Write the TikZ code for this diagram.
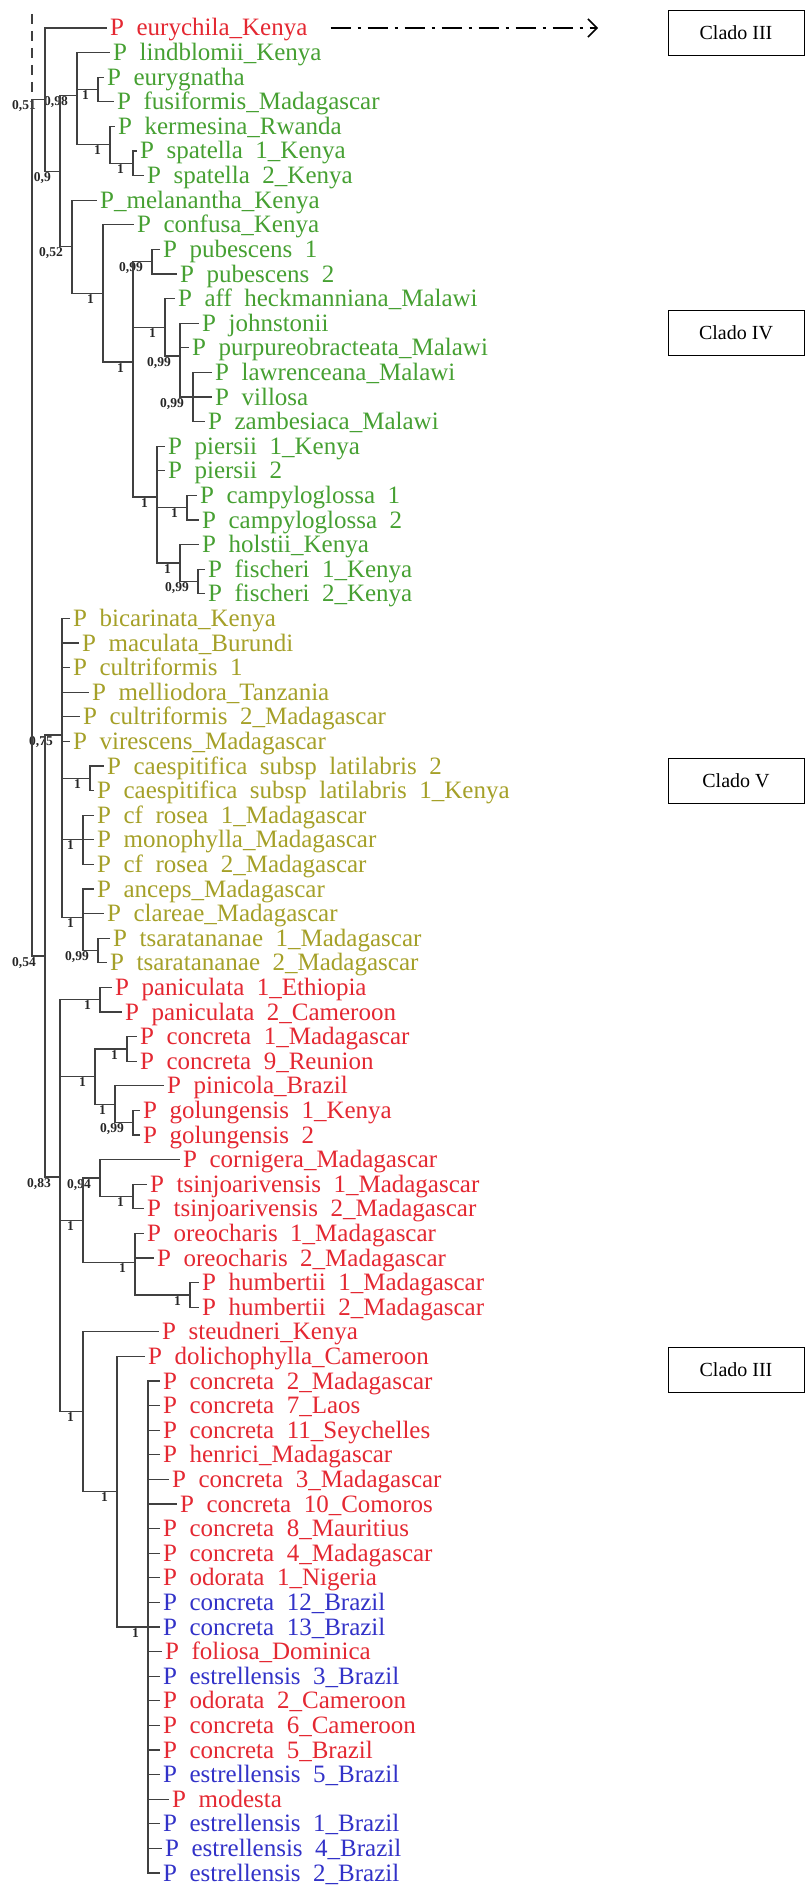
\documentclass[tikz,border=0pt]{standalone}
\usepackage{fontspec}
\setmainfont{Liberation Serif}
\usepackage{xcolor}
\usepackage{tikz}
\usetikzlibrary{arrows.meta}

\definecolor{verde}{RGB}{70,160,50}
\definecolor{oliva}{RGB}{165,160,40}
\definecolor{rojo}{RGB}{228,40,50}
\definecolor{azul}{RGB}{50,50,200}
\newcommand\leaffont{\fontsize{25}{25}\selectfont\spaceskip=0.5em\relax}

\begin{document}
\begin{tikzpicture}[x=1pt, y=-1pt,
  leaf/.style={anchor=west, inner xsep=3pt, inner ysep=0pt, text height=16pt, text depth=0pt, font=\leaffont},
  supp/.style={anchor=north east, inner sep=1pt, font=\fontsize{13.5}{13.5}\selectfont\bfseries, text=black!85},
  branch/.style={line width=1.2pt, draw=black!75},
  clado/.style={draw, line width=0.8pt, minimum width=136pt, minimum height=45pt, font=\fontsize{20}{20}\selectfont}]
  \useasboundingbox (0,0) rectangle (806,1886);
  % leaves: number / start of text / colour / name
  \foreach \i/\tx/\col/\name in {
    1/110/rojo/P eurychila\_Kenya, 2/113/verde/P lindblomii\_Kenya, 3/107/verde/P eurygnatha,
    4/117/verde/P fusiformis\_Madagascar, 5/118/verde/P kermesina\_Rwanda, 6/140/verde/P spatella 1\_Kenya,
    7/147/verde/P spatella 2\_Kenya, 8/100/verde/P\_melanantha\_Kenya, 9/137/verde/P confusa\_Kenya,
    10/163/verde/P pubescens 1, 11/180/verde/P pubescens 2, 12/178/verde/P aff heckmanniana\_Malawi,
    13/202/verde/P johnstonii, 14/192/verde/P purpureobracteata\_Malawi, 15/215/verde/P lawrenceana\_Malawi,
    16/215/verde/P villosa, 17/208/verde/P zambesiaca\_Malawi, 18/168/verde/P piersii 1\_Kenya,
    19/168/verde/P piersii 2, 20/200/verde/P campyloglossa 1, 21/202/verde/P campyloglossa 2,
    22/202/verde/P holstii\_Kenya, 23/208/verde/P fischeri 1\_Kenya, 24/208/verde/P fischeri 2\_Kenya,
    25/73/oliva/P bicarinata\_Kenya, 26/82/oliva/P maculata\_Burundi, 27/73/oliva/P cultriformis 1,
    28/92/oliva/P melliodora\_Tanzania, 29/83/oliva/P cultriformis 2\_Madagascar, 30/73/oliva/P virescens\_Madagascar,
    31/107/oliva/P caespitifica subsp latilabris 2, 32/97/oliva/P caespitifica subsp latilabris 1\_Kenya,
    33/97/oliva/P cf rosea 1\_Madagascar, 34/97/oliva/P monophylla\_Madagascar, 35/97/oliva/P cf rosea 2\_Madagascar,
    36/97/oliva/P anceps\_Madagascar, 37/107/oliva/P clareae\_Madagascar, 38/113/oliva/P tsaratananae 1\_Madagascar,
    39/110/oliva/P tsaratananae 2\_Madagascar, 40/115/rojo/P paniculata 1\_Ethiopia, 41/125/rojo/P paniculata 2\_Cameroon,
    42/140/rojo/P concreta 1\_Madagascar, 43/140/rojo/P concreta 9\_Reunion, 44/167/rojo/P pinicola\_Brazil,
    45/143/rojo/P golungensis 1\_Kenya, 46/143/rojo/P golungensis 2, 47/183/rojo/P cornigera\_Madagascar,
    48/150/rojo/P tsinjoarivensis 1\_Madagascar, 49/147/rojo/P tsinjoarivensis 2\_Madagascar,
    50/147/rojo/P oreocharis 1\_Madagascar, 51/157/rojo/P oreocharis 2\_Madagascar,
    52/202/rojo/P humbertii 1\_Madagascar, 53/202/rojo/P humbertii 2\_Madagascar, 54/162/rojo/P steudneri\_Kenya,
    55/148/rojo/P dolichophylla\_Cameroon, 56/163/rojo/P concreta 2\_Madagascar, 57/163/rojo/P concreta 7\_Laos,
    58/163/rojo/P concreta 11\_Seychelles, 59/163/rojo/P henrici\_Madagascar, 60/172/rojo/P concreta 3\_Madagascar,
    61/180/rojo/P concreta 10\_Comoros, 62/163/rojo/P concreta 8\_Mauritius, 63/163/rojo/P concreta 4\_Madagascar,
    64/163/rojo/P odorata 1\_Nigeria, 65/163/azul/P concreta 12\_Brazil, 66/163/azul/P concreta 13\_Brazil,
    67/165/rojo/P foliosa\_Dominica, 68/163/azul/P estrellensis 3\_Brazil, 69/163/rojo/P odorata 2\_Cameroon,
    70/163/rojo/P concreta 6\_Cameroon, 71/163/rojo/P concreta 5\_Brazil, 72/163/azul/P estrellensis 5\_Brazil,
    73/172/rojo/P modesta, 74/163/azul/P estrellensis 1\_Brazil, 75/165/azul/P estrellensis 4\_Brazil,
    76/163/azul/P estrellensis 2\_Brazil}
    \node[leaf, text=\col] (l\i) at ({\tx-3}, {28+(\i-1)*24.6}) {\name};

  % inner nodes with their support
  \foreach \n/\x/\y/\s in {
    A/45/99.6/{0,51}, E/60/171.2/{0,9}, F/77/95.65/{0,98}, G/98/89.5/1, H/110/144.85/1, T/133/163.3/1,
    I/72/246.8/{0,52}, J/103/293.4/1, K/133/362/1, L/152/261.7/{0,99}, M/165/327.3/1, Pn/180/356/{0,99},
    Q/193/397/{0,99}, N/157/496.9/1, CA/187/507.7/1, S/180/563/1, FI/198/581.5/{0,99},
    Y/62/735/{0,75}, CS/90/778.3/1, RO/83/839.8/1, AN/83/917.7/1, TS2/98/950.5/{0,99}, C/45/956/{0,54},
    D/60/1177/{0,83}, PA/100/999.7/1, CO/95/1076.6/1, CN/127/1048.9/1, PI/115/1104.25/1, GO/133/1122.7/{0,99},
    TO/83/1220.1/1, CT/100/1178.05/{0,94}, TS/133/1196.5/1, OR/135/1262.1/1, HU/190/1294.9/1,
    ST/83/1411.75/1, DO/117/1491.7/1, BP/148/1627/1}
  {
    \coordinate (\n) at (\x,\y);
    \node[supp] (s\n) at ([xshift=-8pt]\n) {\s};
  }
  \coordinate (R) at (32,527.8);
  \coordinate (rtop) at (32,14);

  % branches
  \draw[branch, dash pattern=on 10pt off 7pt] (rtop) -- (R |- A);
  \foreach \p/\c in {R/A, R/C, A/l1, A/E, E/F, E/I, F/l2, F/G, F/H, G/l3, G/l4, H/l5, H/T, T/l6, T/l7,
    I/l8, I/J, J/l9, J/K, K/L, K/M, K/N, L/l10, L/l11, M/l12, M/Pn, Pn/l13, Pn/l14, Pn/Q,
    Q/l15, Q/l16, Q/l17, N/l18, N/l19, N/CA, N/S, CA/l20, CA/l21, S/l22, S/FI, FI/l23, FI/l24,
    C/Y, C/D, Y/l25, Y/l26, Y/l27, Y/l28, Y/l29, Y/l30, Y/CS, Y/RO, Y/AN, CS/l31, CS/l32,
    RO/l33, RO/l34, RO/l35, AN/l36, AN/l37, AN/TS2, TS2/l38, TS2/l39,
    D/PA, D/CO, D/TO, D/ST, PA/l40, PA/l41, CO/CN, CO/PI, CN/l42, CN/l43, PI/l44, PI/GO, GO/l45, GO/l46,
    TO/CT, TO/OR, CT/l47, CT/TS, TS/l48, TS/l49, OR/l50, OR/l51, OR/HU, HU/l52, HU/l53,
    ST/l54, ST/DO, DO/l55, DO/BP}
    \draw[branch] (\p) |- (\c);
  \foreach \i in {56,...,76}
    \draw[branch] (BP) |- (l\i);

  % clade boxes
  \node[clado] (cladoIIIa) at (736,32.5) {Clado III};
  \node[clado] (cladoIV) at (736,333) {Clado IV};
  \node[clado] (cladoV) at (736,781) {Clado V};
  \node[clado] (cladoIIIb) at (736,1370) {Clado III};
  \coordinate (flecha) at (598,28);
  \draw[line width=1.5pt, dash pattern=on 20pt off 7pt on 3pt off 7pt, -{Straight Barb[length=9pt, width=18pt]}]
    ([xshift=20pt]l1.east) -- (flecha);
\end{tikzpicture}
\end{document}
